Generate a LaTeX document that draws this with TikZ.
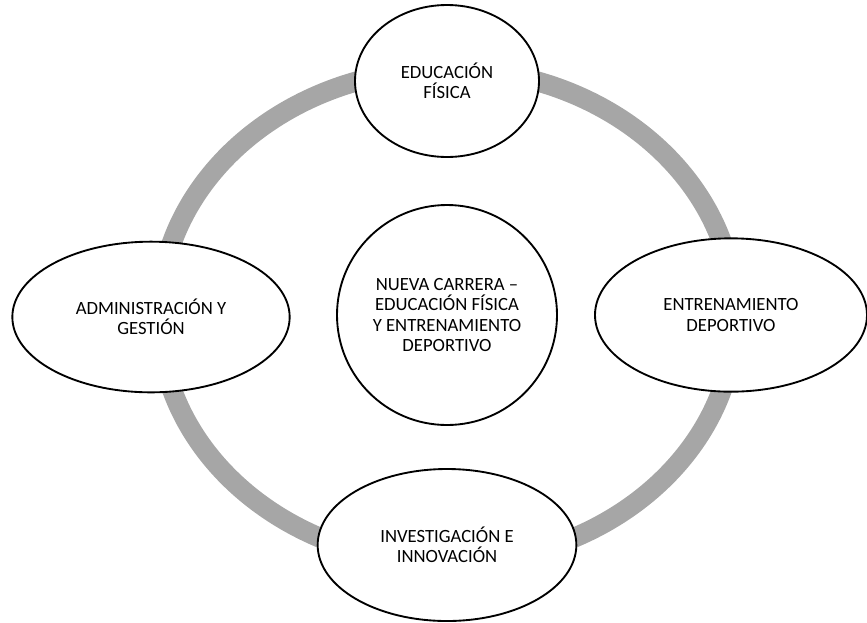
\documentclass[tikz,border=0pt]{standalone}
\usepackage{fontspec}
\setmainfont{Carlito}
\usepackage{xcolor}
\usepackage{tikz}
\usetikzlibrary{shapes.geometric,positioning}

\definecolor{grisanillo}{HTML}{A6A6A6}

\tikzset{
    anillo/.style={draw=grisanillo,line width=15pt},
    tema/.style={ellipse,draw,fill=white,line width=1.4pt,inner sep=0pt,align=center,
        font=\fontsize{14}{15.3}\selectfont},
}

\begin{document}
\begin{tikzpicture}[x=0.75pt,y=-0.75pt]
    \useasboundingbox (0,0) rectangle (867,622);

    % anillo
    \draw[anillo] (447,316) ellipse [x radius=288, y radius=247];

    % centro
    \node[tema,circle,minimum size=165pt] (centro) at (447,315)
        {NUEVA CARRERA --\\EDUCACIÓN FÍSICA\\Y ENTRENAMIENTO\\DEPORTIVO};

    % temas
    \node[tema,minimum width=138pt,minimum height=114pt] (edfis) at (447,81)
        {EDUCACIÓN\\FÍSICA};
    \node[tema,minimum width=204pt,minimum height=115pt] (entren) at (731,315)
        {ENTRENAMIENTO\\DEPORTIVO};
    \node[tema,minimum width=194pt,minimum height=114pt] (invest) at (447,545)
        {INVESTIGACIÓN E\\INNOVACIÓN};
    \node[tema,minimum width=208pt,minimum height=113pt] (admin) at (151,317)
        {ADMINISTRACIÓN Y\\GESTIÓN};
\end{tikzpicture}
\end{document}
